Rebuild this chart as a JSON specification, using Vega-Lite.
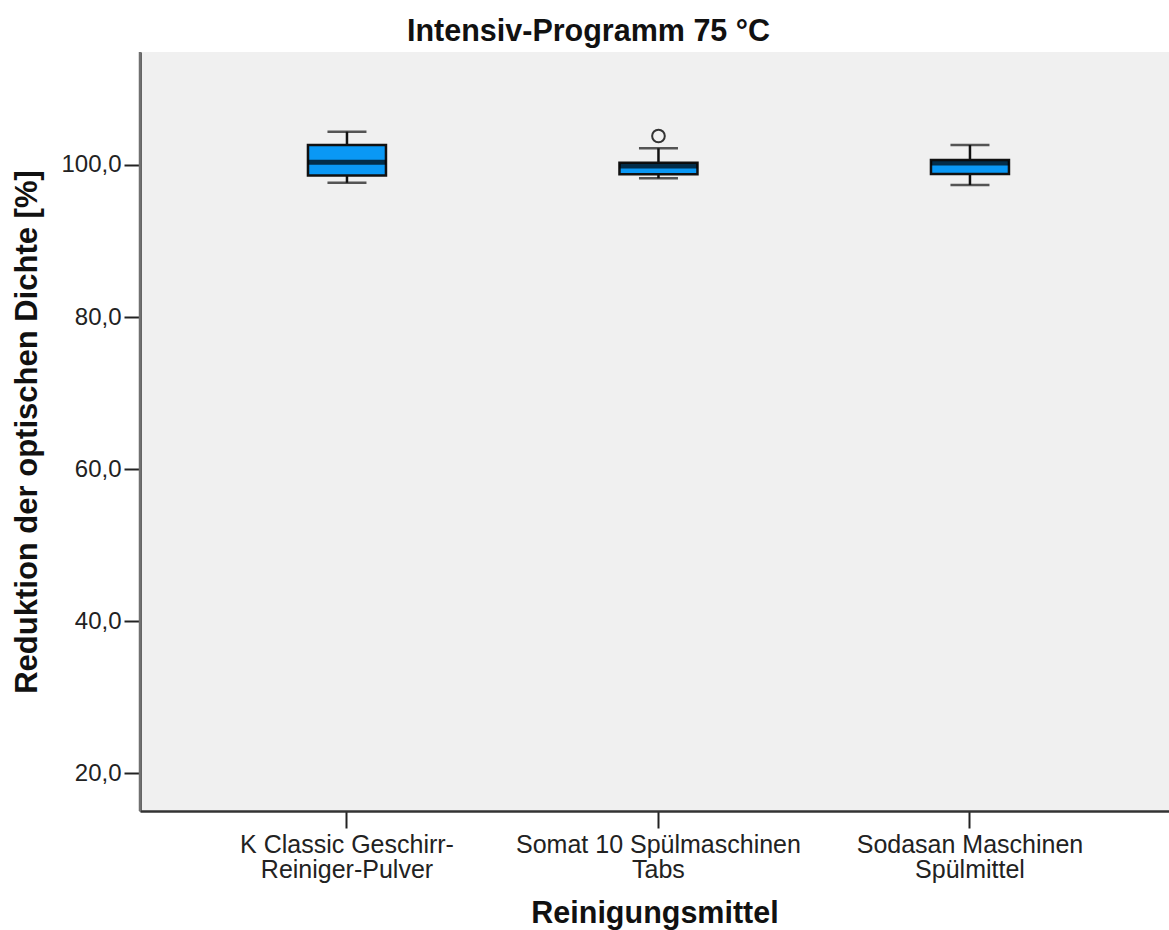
{
  "$schema": "https://vega.github.io/schema/vega-lite/v6.json",
  "width": 1029,
  "height": 759,
  "autosize": {"type": "none"},
  "padding": {"left": 140, "top": 52, "right": 0, "bottom": 119},
  "background": "white",
  "config": {
    "view": {"fill": "#f0f0f0", "stroke": null},
    "font": "Liberation Sans"
  },
  "title": {
    "text": "Intensiv-Programm 75 °C",
    "fontSize": 30.5,
    "fontWeight": "bold",
    "color": "#111111",
    "anchor": "middle",
    "frame": "group",
    "dx": -66,
    "offset": 3
  },
  "datasets": {
    "stats": [
      {"mittel": "K Classic Geschirr-|Reiniger-Pulver", "lower": 97.66, "q1": 98.62, "median": 100.37, "q3": 102.63, "upper": 104.38},
      {"mittel": "Somat 10 Spülmaschinen|Tabs", "lower": 98.25, "q1": 98.78, "median": 99.87, "q3": 100.3, "upper": 102.2},
      {"mittel": "Sodasan Maschinen|Spülmittel", "lower": 97.37, "q1": 98.82, "median": 100.26, "q3": 100.66, "upper": 102.63}
    ],
    "outliers": [
      {"mittel": "Somat 10 Spülmaschinen|Tabs", "wert": 103.81}
    ]
  },
  "encoding": {
    "x": {
      "field": "mittel",
      "type": "nominal",
      "sort": null,
      "scale": {
        "domain": ["K Classic Geschirr-|Reiniger-Pulver", "Somat 10 Spülmaschinen|Tabs", "Sodasan Maschinen|Spülmittel"],
        "paddingInner": 0,
        "paddingOuter": 0.1517,
        "align": 0.542
      },
      "axis": {
        "title": "Reinigungsmittel",
        "titleFontSize": 30.5,
        "titleFontWeight": "bold",
        "titleColor": "#111111",
        "titlePadding": 16,
        "labelExpr": "split(datum.label, '|')",
        "labelFontSize": 25,
        "labelLineHeight": 25,
        "labelLimit": 0,
        "labelColor": "#222222",
        "labelAngle": 0,
        "labelPadding": 4,
        "labelOverlap": false,
        "tickSize": 17,
        "tickWidth": 2,
        "tickColor": "#222222",
        "domainWidth": 2.5,
        "domainColor": "#333333",
        "grid": false
      }
    }
  },
  "layer": [
    {
      "data": {"name": "stats"},
      "mark": {"type": "rule", "color": "#111111", "strokeWidth": 2.5},
      "encoding": {
        "y": {
          "field": "lower",
          "type": "quantitative",
          "scale": {"domain": [15.04, 114.86], "nice": false, "zero": false},
          "axis": {
            "title": "Reduktion der optischen Dichte [%]",
            "titleFontSize": 31,
            "titleFontWeight": "bold",
            "titleColor": "#111111",
            "titlePadding": 17,
            "values": [20, 40, 60, 80, 100],
            "labelExpr": "replace(format(datum.value, '.1f'), '.', ',')",
            "labelFontSize": 24,
            "labelColor": "#222222",
            "labelPadding": 3,
            "tickSize": 16,
            "tickWidth": 2,
            "tickColor": "#222222",
            "domainWidth": 2.5,
            "domainColor": "#333333",
            "grid": false
          }
        },
        "y2": {"field": "upper"}
      }
    },
    {
      "data": {"name": "stats"},
      "mark": {"type": "tick", "color": "#111111", "thickness": 2.5, "size": 39},
      "encoding": {"y": {"field": "upper", "type": "quantitative"}}
    },
    {
      "data": {"name": "stats"},
      "mark": {"type": "tick", "color": "#111111", "thickness": 2.5, "size": 39},
      "encoding": {"y": {"field": "lower", "type": "quantitative"}}
    },
    {
      "data": {"name": "stats"},
      "mark": {"type": "bar", "size": 78, "fill": "#0a98f5", "stroke": "#111111", "strokeWidth": 2.5},
      "encoding": {
        "y": {"field": "q1", "type": "quantitative"},
        "y2": {"field": "q3"}
      }
    },
    {
      "data": {"name": "stats"},
      "mark": {"type": "tick", "color": "#000000", "thickness": 5, "size": 78},
      "encoding": {"y": {"field": "median", "type": "quantitative"}}
    },
    {
      "data": {"name": "outliers"},
      "mark": {"type": "point", "shape": "circle", "size": 160, "filled": false, "stroke": "#333333", "strokeWidth": 2, "opacity": 1},
      "encoding": {"y": {"field": "wert", "type": "quantitative"}}
    },
    {
      "data": {"values": [{}]},
      "mark": {"type": "rule", "color": "#707070", "strokeWidth": 2.5},
      "encoding": {"y": {"datum": 114.86}}
    }
  ]
}
